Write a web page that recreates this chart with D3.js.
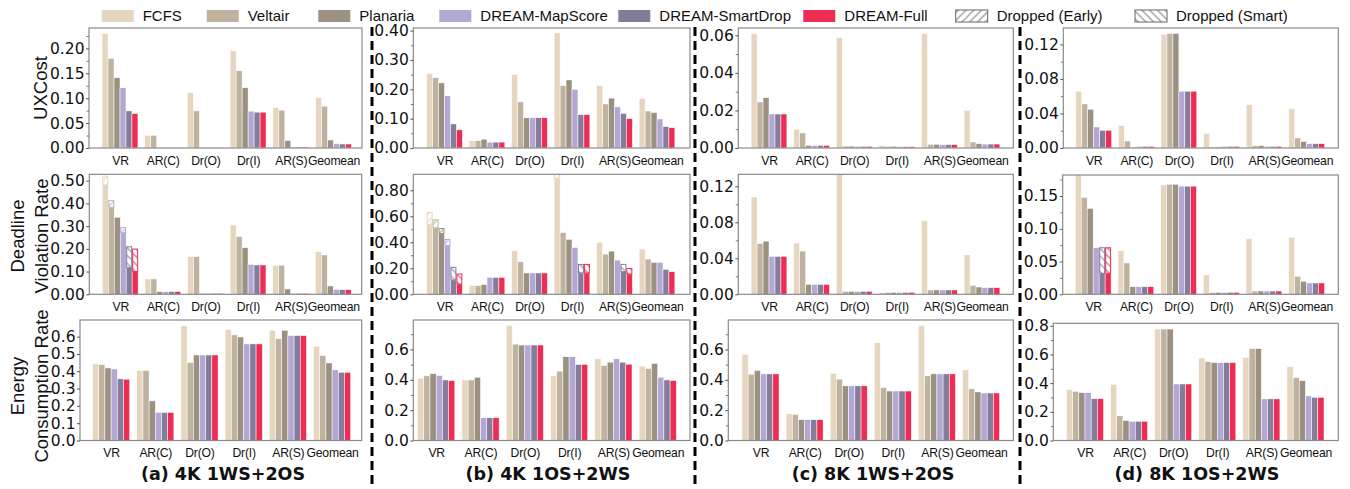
<!DOCTYPE html>
<html>
<head>
<meta charset="utf-8">
<script src="https://cdn.jsdelivr.net/npm/d3@7"></script>
<style>
  body { margin: 0; background: #fff; }
  text { fill: #111; }
</style>
</head>
<body>
<svg id="chart" width="1350" height="489"></svg>
<script>
const categories = ["VR", "AR(C)", "Dr(O)", "Dr(I)", "AR(S)", "Geomean"];
const schemes = ["FCFS", "Veltair", "Planaria", "DREAM-MapScore", "DREAM-SmartDrop", "DREAM-Full"];
const configs = ["(a) 4K 1WS+2OS", "(b) 4K 1OS+2WS", "(c) 8K 1WS+2OS", "(d) 8K 1OS+2WS"];
const metrics = [["UXCost"], ["Deadline", "Violation Rate"], ["Energy", "Consumption Rate"]];

// one row per category, one value per scheme
const uxA = [
  [0.230, 0.180, 0.141, 0.121, 0.0745, 0.069],
  [0.0255, 0.0255, 0.001, 0.001, 0.001, 0.001],
  [0.111, 0.0745, 0.001, 0.001, 0.001, 0.001],
  [0.195, 0.155, 0.121, 0.074, 0.072, 0.072],
  [0.081, 0.076, 0.015, 0.002, 0.002, 0.002],
  [0.101, 0.084, 0.016, 0.0087, 0.008, 0.008]];
const uxB = [
  [0.254, 0.240, 0.222, 0.178, 0.082, 0.062],
  [0.0245, 0.0245, 0.030, 0.020, 0.020, 0.020],
  [0.251, 0.157, 0.103, 0.103, 0.103, 0.103],
  [0.392, 0.213, 0.232, 0.200, 0.114, 0.114],
  [0.213, 0.150, 0.170, 0.140, 0.118, 0.100],
  [0.169, 0.126, 0.121, 0.099, 0.073, 0.069]];
const uxC = [
  [0.0609, 0.0245, 0.0268, 0.0181, 0.0181, 0.0181],
  [0.0099, 0.008, 0.0014, 0.0014, 0.0014, 0.0014],
  [0.0588, 0.001, 0.001, 0.0009, 0.0009, 0.0009],
  [0.0014, 0.0009, 0.0009, 0.0007, 0.0007, 0.0007],
  [0.0609, 0.002, 0.002, 0.0018, 0.0018, 0.0018],
  [0.0201, 0.0032, 0.0023, 0.0021, 0.0021, 0.0021]];
const uxD = [
  [0.0658, 0.051, 0.0449, 0.0244, 0.0205, 0.0205],
  [0.0263, 0.0081, 0.001, 0.0019, 0.0019, 0.0019],
  [0.1316, 0.1328, 0.1328, 0.0658, 0.0658, 0.0658],
  [0.0166, 0.0012, 0.0012, 0.0019, 0.0019, 0.0019],
  [0.0503, 0.0027, 0.0027, 0.0019, 0.0019, 0.0019],
  [0.0453, 0.0116, 0.0077, 0.005, 0.005, 0.005]];

const dvrA = [
  [0.481, 0.383, 0.339, 0.271, 0.119, 0.100],
  [0.0675, 0.0675, 0.012, 0.012, 0.012, 0.012],
  [0.166, 0.166, 0.004, 0.004, 0.004, 0.004],
  [0.305, 0.254, 0.205, 0.132, 0.129, 0.129],
  [0.126, 0.128, 0.0235, 0.004, 0.004, 0.004],
  [0.188, 0.173, 0.0367, 0.022, 0.0205, 0.0205]];
const dvrB = [
  [0.539, 0.511, 0.468, 0.376, 0.110, 0.079],
  [0.069, 0.0665, 0.074, 0.130, 0.130, 0.130],
  [0.335, 0.250, 0.164, 0.164, 0.164, 0.164],
  [0.889, 0.475, 0.422, 0.360, 0.164, 0.164],
  [0.401, 0.309, 0.332, 0.263, 0.174, 0.156],
  [0.348, 0.271, 0.245, 0.245, 0.192, 0.174]];
const dvrC = [
  [0.108, 0.0565, 0.059, 0.0421, 0.0421, 0.0421],
  [0.0569, 0.048, 0.011, 0.011, 0.011, 0.011],
  [0.140, 0.0033, 0.0033, 0.0033, 0.0033, 0.0033],
  [0.0022, 0.0022, 0.0022, 0.0022, 0.0022, 0.0022],
  [0.0816, 0.0048, 0.0048, 0.0048, 0.0048, 0.0048],
  [0.044, 0.010, 0.0081, 0.0074, 0.0074, 0.0074]];
const dvrD = [
  [0.19, 0.148, 0.131, 0.071, 0.032, 0.032],
  [0.0666, 0.0478, 0.0117, 0.0117, 0.0117, 0.0117],
  [0.1668, 0.1678, 0.1678, 0.165, 0.165, 0.165],
  [0.0295, 0.003, 0.003, 0.003, 0.003, 0.003],
  [0.085, 0.005, 0.005, 0.005, 0.005, 0.005],
  [0.087, 0.0275, 0.0198, 0.0173, 0.0173, 0.0173]];

// dropped requests stacked on top of the deadline violation bars
const dropA = [
  ["VR", "FCFS", 0.039, "early"], ["VR", "Veltair", 0.029, "early"],
  ["VR", "DREAM-MapScore", 0.022, "early"],
  ["VR", "DREAM-SmartDrop", 0.090, "smart"], ["VR", "DREAM-Full", 0.099, "smart"]];
const dropB = [
  ["VR", "FCFS", 0.090, "early"], ["VR", "Veltair", 0.062, "early"],
  ["VR", "Planaria", 0.038, "early"], ["VR", "DREAM-MapScore", 0.046, "early"],
  ["VR", "DREAM-SmartDrop", 0.097, "smart"], ["VR", "DREAM-Full", 0.077, "smart"],
  ["Dr(I)", "FCFS", 0.04, "early"],
  ["Dr(I)", "DREAM-SmartDrop", 0.066, "smart"], ["Dr(I)", "DREAM-Full", 0.066, "smart"],
  ["AR(S)", "DREAM-SmartDrop", 0.056, "smart"], ["AR(S)", "DREAM-Full", 0.043, "smart"]];
const dropC = [];
const dropD = [
  ["VR", "DREAM-SmartDrop", 0.039, "smart"], ["VR", "DREAM-Full", 0.039, "smart"]];

const enA = [
  [0.442, 0.438, 0.419, 0.413, 0.356, 0.354],
  [0.404, 0.404, 0.229, 0.162, 0.162, 0.162],
  [0.663, 0.450, 0.494, 0.494, 0.494, 0.494],
  [0.640, 0.610, 0.598, 0.558, 0.558, 0.558],
  [0.637, 0.588, 0.637, 0.606, 0.606, 0.606],
  [0.544, 0.490, 0.448, 0.408, 0.394, 0.394]];
const enB = [
  [0.410, 0.426, 0.441, 0.428, 0.399, 0.395],
  [0.399, 0.399, 0.417, 0.150, 0.150, 0.150],
  [0.757, 0.635, 0.629, 0.629, 0.629, 0.629],
  [0.426, 0.457, 0.552, 0.552, 0.501, 0.501],
  [0.538, 0.494, 0.516, 0.538, 0.516, 0.503],
  [0.490, 0.474, 0.507, 0.417, 0.399, 0.395]];
const enC = [
  [0.567, 0.437, 0.461, 0.439, 0.439, 0.439],
  [0.176, 0.172, 0.137, 0.137, 0.137, 0.137],
  [0.443, 0.404, 0.360, 0.360, 0.360, 0.360],
  [0.644, 0.349, 0.326, 0.326, 0.326, 0.326],
  [0.757, 0.426, 0.439, 0.439, 0.439, 0.439],
  [0.465, 0.340, 0.320, 0.313, 0.313, 0.313]];
const enD = [
  [0.355, 0.343, 0.334, 0.334, 0.292, 0.292],
  [0.392, 0.172, 0.139, 0.134, 0.134, 0.134],
  [0.777, 0.777, 0.777, 0.394, 0.394, 0.394],
  [0.575, 0.550, 0.543, 0.543, 0.543, 0.543],
  [0.580, 0.640, 0.640, 0.290, 0.290, 0.290],
  [0.515, 0.438, 0.417, 0.311, 0.301, 0.301]];

// y ticks [major, minor, ymax] for each panel
const uxTicks = [
  [[0, 0.05, 0.10, 0.15, 0.20], [0.025, 0.075, 0.125, 0.175, 0.225], 0.241],
  [[0, 0.10, 0.20, 0.30, 0.40], [0.05, 0.15, 0.25, 0.35], 0.409],
  [[0, 0.02, 0.04, 0.06], [0.01, 0.03, 0.05], 0.0639],
  [[0, 0.04, 0.08, 0.12], [0.02, 0.06, 0.10], 0.139]];
const dvrTicks = [
  [[0, 0.10, 0.20, 0.30, 0.40, 0.50], [], 0.528],
  [[0, 0.20, 0.40, 0.60, 0.80], [0.10, 0.30, 0.50, 0.70], 0.923],
  [[0, 0.04, 0.08, 0.12], [0.02, 0.06, 0.10], 0.1333],
  [[0, 0.05, 0.10, 0.15], [0.025, 0.075, 0.125, 0.175], 0.182]];
const enTicks = [
  [[0, 0.1, 0.2, 0.3, 0.4, 0.5, 0.6], [], 0.696],
  [[0, 0.2, 0.4, 0.6], [0.1, 0.3, 0.5, 0.7], 0.794],
  [[0, 0.2, 0.4, 0.6], [0.1, 0.3, 0.5, 0.7], 0.794],
  [[0, 0.2, 0.4, 0.6, 0.8], [0.1, 0.3, 0.5, 0.7], 0.817]];

const colors = ["#e6d6bf", "#bfb29f", "#9c9081", "#b2a8d3", "#857b9a", "#ee2d55"];

// panel frames in pixels and x limits (group i centred at i)
const frames = [
  [{l: 89, r: 362, t: 28, b: 148, x0: -0.726, x1: 5.667},
   {l: 413.3, r: 690, t: 28, b: 148, x0: -0.734, x1: 5.776},
   {l: 738.3, r: 1013.3, t: 28, b: 148, x0: -0.721, x1: 5.735},
   {l: 1063.3, r: 1338.3, t: 28, b: 148, x0: -0.714, x1: 5.742}],
  [{l: 89.3, r: 361.7, t: 174.3, b: 294.3, x0: -0.726, x1: 5.667},
   {l: 413.3, r: 690, t: 174.3, b: 294.3, x0: -0.734, x1: 5.776},
   {l: 738.3, r: 1013.3, t: 174.3, b: 294.3, x0: -0.721, x1: 5.735},
   {l: 1062.7, r: 1338.3, t: 175, b: 294.3, x0: -0.714, x1: 5.742}],
  [{l: 80, r: 361.7, t: 320, b: 440.5, x0: -0.704, x1: 5.670},
   {l: 413.3, r: 690, t: 320, b: 440.5, x0: -0.517, x1: 5.729},
   {l: 728.3, r: 1013.3, t: 320, b: 440.5, x0: -0.730, x1: 5.732},
   {l: 1053.3, r: 1338.3, t: 323.3, b: 440.5, x0: -0.719, x1: 5.744}]];

const barW = 0.14;
const svg = d3.select("#chart");
const defs = svg.append("defs");

function hatch(id, color, angle) {
  const p = defs.append("pattern")
    .attr("id", id)
    .attr("patternUnits", "userSpaceOnUse")
    .attr("width", 5.5).attr("height", 5.5)
    .attr("patternTransform", `rotate(${angle})`);
  p.append("line")
    .attr("x1", 2.75).attr("y1", -1).attr("x2", 2.75).attr("y2", 7)
    .attr("stroke", color).attr("stroke-width", 1);
}
colors.forEach((c, i) => {
  hatch(`early${i}`, c, 45);
  hatch(`smart${i}`, c, -45);
});
hatch("earlyLegend", "#777", 45);
hatch("smartLegend", "#777", -45);

let clipId = 0;
function drawPanel(f, data, ticks, fmt, drops) {
  const [major, minor, ymax] = ticks;
  const x = d3.scaleLinear().domain([f.x0, f.x1]).range([f.l, f.r]);
  const y = d3.scaleLinear().domain([0, ymax]).range([f.b, f.t]);
  const g = svg.append("g");

  const cid = `clip${clipId++}`;
  defs.append("clipPath").attr("id", cid)
    .append("rect").attr("x", f.l).attr("y", f.t).attr("width", f.r - f.l).attr("height", f.b - f.t);
  const bars = g.append("g").attr("clip-path", `url(#${cid})`);

  data.forEach((row, i) => {
    bars.selectAll(null)
      .data(row)
      .enter().append("rect")
      .attr("x", (d, j) => x(i + (j - 2.5) * barW - barW / 2))
      .attr("width", x(barW) - x(0))
      .attr("y", d => y(d))
      .attr("height", d => y(0) - y(d))
      .attr("fill", (d, j) => colors[j])
      .attr("stroke", "#fff")
      .attr("stroke-width", 0.5);
  });

  // hatched dropped part on top of the solid bar
  drops.forEach(([cat, scheme, v, kind]) => {
    const i = categories.indexOf(cat);
    const j = schemes.indexOf(scheme);
    const base = data[i][j];
    const bx = x(i + (j - 2.5) * barW - barW / 2) + 0.5;
    const bw = x(barW) - x(0) - 1;
    bars.append("rect")
      .attr("x", bx).attr("width", bw)
      .attr("y", y(base + v))
      .attr("height", y(base) - y(base + v))
      .attr("fill", "#fff");
    bars.append("rect")
      .attr("x", bx).attr("width", bw)
      .attr("y", y(base + v))
      .attr("height", y(base) - y(base + v))
      .attr("fill", `url(#${kind}${j})`)
      .attr("stroke", colors[j])
      .attr("stroke-width", 1);
  });

  g.append("rect")
    .attr("x", f.l).attr("y", f.t)
    .attr("width", f.r - f.l).attr("height", f.b - f.t)
    .attr("fill", "none").attr("stroke", "#8a8a8a").attr("stroke-width", 1.2);

  const yAxis = g.append("g")
    .attr("transform", `translate(${f.l},0)`)
    .call(d3.axisLeft(y).tickValues(major).tickFormat(d3.format(fmt)).tickSize(3).tickPadding(1.5));
  yAxis.select(".domain").remove();
  yAxis.selectAll("line").attr("stroke", "#555");
  yAxis.selectAll("text")
    .attr("font-family", "DejaVu Sans, sans-serif")
    .attr("font-size", 15.5)
    .attr("fill", "#111");

  const minorAxis = g.append("g")
    .attr("transform", `translate(${f.l},0)`)
    .call(d3.axisLeft(y).tickValues(minor.filter(v => v <= ymax)).tickFormat("").tickSize(2.5));
  minorAxis.select(".domain").remove();
  minorAxis.selectAll("line").attr("stroke", "#777");

  g.selectAll(".cat")
    .data(categories)
    .enter().append("text")
    .attr("class", "cat")
    .attr("x", (d, i) => x(i) + 0.5)
    .attr("y", f.b + 16.5)
    .attr("text-anchor", "middle")
    .attr("font-family", "Liberation Sans, Arial, sans-serif")
    .attr("font-size", 12.2)
    .attr("letter-spacing", -0.2)
    .text(d => d);
}

const uxData = [uxA, uxB, uxC, uxD];
const dvrData = [dvrA, dvrB, dvrC, dvrD];
const dropData = [dropA, dropB, dropC, dropD];
const enData = [enA, enB, enC, enD];

for (let c = 0; c < 4; c++) {
  drawPanel(frames[0][c], uxData[c], uxTicks[c], ".2f", []);
  drawPanel(frames[1][c], dvrData[c], dvrTicks[c], ".2f", dropData[c]);
  drawPanel(frames[2][c], enData[c], enTicks[c], ".1f", []);
}

// y axis titles
const rowCenters = [88, 236, 386];
metrics.forEach((lines, r) => {
  const xs = lines.length === 1 ? [47] : [24, 48];
  lines.forEach((txt, k) => {
    svg.append("text")
      .attr("transform", `translate(${xs[k]},${rowCenters[r]}) rotate(-90)`)
      .attr("text-anchor", "middle")
      .attr("font-family", "Liberation Sans, Arial, sans-serif")
      .attr("font-size", 18.5)
      .text(txt);
  });
});

// subfigure captions
const captionX = [223, 548, 873, 1197];
configs.forEach((t, c) => {
  svg.append("text")
    .attr("x", captionX[c]).attr("y", 480)
    .attr("text-anchor", "middle")
    .attr("font-family", "DejaVu Sans, sans-serif")
    .attr("font-weight", "bold")
    .attr("font-size", 17.5)
    .text(t);
});

// dashed separators
[372, 695, 1020].forEach(sx => {
  svg.append("line")
    .attr("x1", sx).attr("x2", sx)
    .attr("y1", 27).attr("y2", 488)
    .attr("stroke", "#000")
    .attr("stroke-width", 3)
    .attr("stroke-dasharray", "9,5");
});

// legend
const legendItems = schemes.concat(["Dropped (Early)", "Dropped (Smart)"]);
const legendX = [101.7, 206.7, 318.3, 439.3, 618.3, 803.3, 955.7, 1135];
legendItems.forEach((name, k) => {
  const lx = legendX[k];
  if (k < 6) {
    svg.append("rect")
      .attr("x", lx).attr("y", 10).attr("width", 32).attr("height", 12)
      .attr("fill", colors[k]);
  } else {
    svg.append("rect")
      .attr("x", lx).attr("y", 10).attr("width", 32).attr("height", 12)
      .attr("fill", k === 6 ? "url(#earlyLegend)" : "url(#smartLegend)")
      .attr("stroke", "#666").attr("stroke-width", 1);
  }
  svg.append("text")
    .attr("x", lx + 41).attr("y", 21)
    .attr("font-family", "Liberation Sans, Arial, sans-serif")
    .attr("font-size", 15)
    .text(name);
});
</script>
</body>
</html>
